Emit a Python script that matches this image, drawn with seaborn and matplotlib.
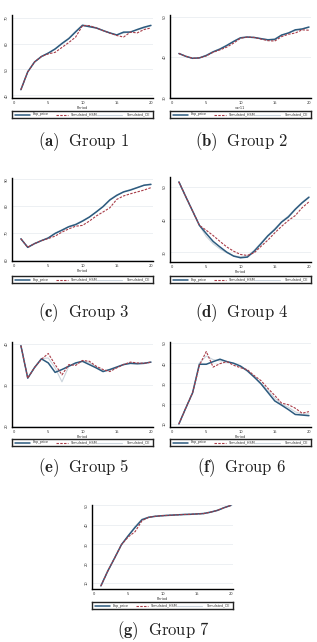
import numpy as np
import pandas as pd
import matplotlib
matplotlib.use("Agg")
import matplotlib.pyplot as plt
import seaborn as sns

sns.set_theme(style="white")
plt.rcParams["mathtext.fontset"] = "cm"

period = list(range(1, 21))

# Group 1
g1_exp = [42.2, 49.1, 52.9, 55.0, 56.3, 57.9, 60.0, 61.9, 64.5, 67.0, 66.5, 66.0, 65.0, 64.1, 63.3, 64.4, 64.4, 65.4, 66.3, 67.0]
g1_hsm = [42.2, 49.1, 52.9, 55.0, 56.0, 56.6, 58.5, 60.4, 62.5, 66.9, 66.9, 66.0, 65.0, 64.0, 63.1, 62.5, 64.4, 64.1, 65.4, 66.0]
g1_ce  = [42.2, 49.1, 52.9, 55.0, 56.4, 58.0, 60.2, 62.1, 64.8, 67.3, 66.8, 66.2, 65.1, 64.0, 63.4, 64.0, 64.6, 65.2, 66.0, 66.8]
# Group 2
g2_exp = [40.9, 40.2, 39.7, 39.8, 40.4, 41.3, 42.0, 42.9, 43.9, 44.8, 45.0, 44.9, 44.6, 44.3, 44.4, 45.5, 46.0, 46.8, 47.0, 47.5]
g2_hsm = [40.9, 40.2, 39.7, 39.8, 40.3, 41.2, 41.8, 42.5, 43.5, 44.7, 45.0, 44.9, 44.5, 44.1, 44.0, 45.1, 45.7, 46.0, 46.8, 46.7]
g2_ce  = [40.9, 40.2, 39.7, 39.8, 40.5, 41.4, 42.1, 43.0, 44.0, 44.9, 45.0, 44.8, 44.6, 44.4, 44.6, 45.4, 46.1, 46.6, 47.1, 47.4]
# Group 3
g3_exp = [67.8, 64.6, 66.0, 67.1, 68.1, 69.8, 71.0, 72.3, 73.1, 74.4, 75.9, 77.8, 79.8, 82.3, 84.0, 85.3, 86.0, 86.9, 87.8, 88.1]
g3_hsm = [67.8, 64.6, 66.0, 67.1, 67.9, 68.8, 70.3, 71.5, 72.5, 72.8, 74.4, 76.3, 77.8, 79.4, 82.5, 83.8, 84.6, 85.3, 86.0, 86.9]
g3_ce  = [67.8, 64.6, 66.0, 67.1, 68.2, 69.9, 71.2, 72.4, 73.3, 74.6, 76.0, 77.9, 80.0, 82.5, 84.2, 85.4, 86.2, 87.0, 87.9, 88.3]
# Group 4
g4_exp = [51.5, 47.0, 42.6, 38.2, 35.7, 33.3, 31.6, 30.0, 28.8, 28.3, 28.5, 30.3, 32.6, 35.0, 36.9, 39.2, 40.8, 43.1, 45.1, 46.8]
g4_hsm = [51.5, 47.0, 42.6, 38.2, 36.7, 35.1, 33.3, 31.6, 30.3, 29.3, 29.0, 29.8, 31.8, 33.7, 35.9, 37.9, 39.7, 41.2, 43.6, 45.4]
g4_ce  = [51.5, 47.0, 42.6, 38.2, 34.8, 32.6, 31.0, 29.8, 28.9, 28.6, 28.8, 30.6, 32.9, 35.2, 37.2, 39.4, 41.1, 43.3, 45.3, 47.0]
# Group 5
g5_exp = [39.6, 31.7, 34.3, 36.4, 35.4, 33.1, 33.8, 34.6, 35.4, 35.8, 35.0, 34.2, 33.3, 33.8, 34.4, 35.0, 35.3, 35.2, 35.3, 35.6]
g5_hsm = [39.6, 31.7, 34.3, 36.3, 37.7, 35.0, 32.5, 35.0, 34.8, 36.0, 35.8, 34.6, 33.8, 33.3, 34.2, 35.0, 35.6, 35.4, 35.3, 35.6]
g5_ce  = [39.6, 31.7, 34.3, 36.5, 36.6, 34.2, 30.8, 34.6, 35.2, 35.9, 35.5, 34.4, 33.5, 33.6, 34.3, 35.1, 35.5, 35.3, 35.4, 35.6]
# Group 6
g6_exp = [10.0, 17.8, 25.4, 39.5, 39.5, 40.8, 42.0, 40.8, 40.0, 38.6, 36.3, 33.2, 29.8, 25.6, 21.4, 19.3, 17.1, 14.7, 14.4, 14.1]
g6_hsm = [10.0, 17.8, 25.4, 39.0, 45.8, 38.1, 39.8, 40.8, 39.0, 37.8, 36.8, 33.9, 31.4, 27.6, 24.1, 20.3, 19.5, 17.8, 15.3, 16.1]
g6_ce  = [10.0, 17.8, 25.4, 40.2, 43.5, 41.8, 41.2, 41.0, 39.8, 38.3, 36.0, 33.0, 30.2, 26.5, 22.8, 19.8, 18.2, 16.0, 14.8, 15.0]
# Group 7
g7_exp = [8.6, 16.2, 22.9, 29.8, 34.4, 38.7, 42.6, 43.9, 44.4, 44.7, 44.9, 45.1, 45.3, 45.4, 45.6, 45.8, 46.5, 47.4, 48.8, 50.0]
g7_hsm = [8.6, 16.2, 22.9, 29.8, 33.8, 36.5, 42.1, 43.9, 44.4, 44.7, 44.9, 45.1, 45.3, 45.4, 45.6, 45.8, 46.5, 47.4, 48.8, 50.0]
g7_ce  = [8.6, 16.2, 22.9, 29.8, 34.6, 39.2, 43.0, 44.0, 44.5, 44.8, 45.0, 45.2, 45.3, 45.5, 45.7, 45.9, 46.6, 47.5, 48.9, 50.0]

yticks_list = [
    [40, 50, 60, 70],
    [30, 40, 50],
    [60, 70, 80, 90],
    [30, 40, 50],
    [20, 30, 40],
    [10, 20, 30, 40, 50],
    [10, 20, 30, 40, 50],
]
ylims = [(39, 71), (29.8, 50.5), (59.5, 90.5), (27, 53), (19.8, 40.5), (8.5, 50.5), (7, 50.2)]
xlabels = ["Period", "var11", "Period", "Period", "Period", "Period", "Period"]
captions = ["a", "b", "c", "d", "e", "f", "g"]
legend_labels = ["Exp_price", "Simulated_HSM", "Simulated_CE"]
series = [
    (g1_exp, g1_hsm, g1_ce), (g2_exp, g2_hsm, g2_ce), (g3_exp, g3_hsm, g3_ce),
    (g4_exp, g4_hsm, g4_ce), (g5_exp, g5_hsm, g5_ce), (g6_exp, g6_hsm, g6_ce),
    (g7_exp, g7_hsm, g7_ce),
]

W, H = 317, 642
fig = plt.figure(figsize=(W / 100, H / 100), dpi=100)
fig.patch.set_facecolor("white")

# px boxes: left, top, right, bottom ; legend top/bottom ; caption y
boxes = [
    (12, 15, 153, 98, 111, 118, 142),
    (170, 15, 311, 98, 111, 118, 142),
    (12, 178, 153, 261, 276, 283, 313),
    (170, 177, 311, 262, 276, 283, 313),
    (12, 342, 153, 427, 439, 446, 468),
    (170, 342, 311, 427, 439, 446, 468),
    (92, 505, 233, 589, 602, 609, 631),
]

c_exp = "#2c5a7e"
c_hsm = "#a83c48"
c_ce = "#cbd4dc"
dash = (0, (2.2, 1.2))

for i in range(7):
    l, t, r, b, lt, lb, cy = boxes[i]
    ax = fig.add_axes([l / W, 1 - b / H, (r - l) / W, (b - t) / H])
    exp_v, hsm_v, ce_v = series[i]
    df = pd.DataFrame({
        "Period": period * 3,
        "value": list(exp_v) + list(hsm_v) + list(ce_v),
        "series": [legend_labels[0]] * 20 + [legend_labels[1]] * 20 + [legend_labels[2]] * 20,
    })
    sns.lineplot(data=df[df.series == legend_labels[2]], x="Period", y="value", ax=ax,
                 color=c_ce, lw=0.8, legend=False, zorder=2)
    sns.lineplot(data=df[df.series == legend_labels[0]], x="Period", y="value", ax=ax,
                 color=c_exp, lw=1.1, legend=False, zorder=3)
    sns.lineplot(data=df[df.series == legend_labels[1]], x="Period", y="value", ax=ax,
                 color=c_hsm, lw=0.8, legend=False, zorder=4, linestyle=dash)
    ax.set_xlim(-0.3, 20.3)
    ax.set_ylim(*ylims[i])
    ax.set_xticks([0, 5, 10, 15, 20])
    ax.set_yticks(yticks_list[i])
    ax.set_yticklabels([str(v) for v in yticks_list[i]], rotation=90, va="center")
    ax.tick_params(axis="both", labelsize=2.6, length=1.5, width=0.5, pad=1, colors="#333333")
    ax.set_xlabel(xlabels[i], fontsize=2.6, labelpad=0.5, color="#333333")
    ax.set_ylabel("")
    ax.grid(axis="y", color="#e6eaee", lw=0.5)
    ax.set_axisbelow(True)
    for s in ["top", "right"]:
        ax.spines[s].set_visible(False)
    for s in ["left", "bottom"]:
        ax.spines[s].set_color("black")
        ax.spines[s].set_linewidth(1.0)

    # legend box
    lax = fig.add_axes([l / W, 1 - lb / H, (r - l) / W, (lb - lt) / H])
    lax.set_xlim(0, 1)
    lax.set_ylim(0, 1)
    lax.set_xticks([])
    lax.set_yticks([])
    for s in lax.spines.values():
        s.set_color("#222222")
        s.set_linewidth(1.0)
    lax.plot([0.02, 0.13], [0.5, 0.5], color=c_exp, lw=1.1)
    lax.text(0.145, 0.5, legend_labels[0], fontsize=2.4, va="center", color="#333333")
    lax.plot([0.31, 0.40], [0.5, 0.5], color=c_hsm, lw=0.8, linestyle=dash)
    lax.text(0.415, 0.5, legend_labels[1], fontsize=2.4, va="center", color="#333333")
    lax.plot([0.60, 0.78], [0.5, 0.5], color=c_ce, lw=0.8)
    lax.text(0.98, 0.5, legend_labels[2], fontsize=2.4, va="center", ha="right", color="#333333")

    # caption
    cx = (l + r) / 2 + 1
    fig.text(cx / W, 1 - cy / H, r"$\mathbf{(%s)}\ \ \mathrm{Group\ %d}$" % (captions[i], i + 1),
             ha="center", va="center", fontsize=12, color="#222222")

fig.savefig("out.png", dpi=100, facecolor="white")
